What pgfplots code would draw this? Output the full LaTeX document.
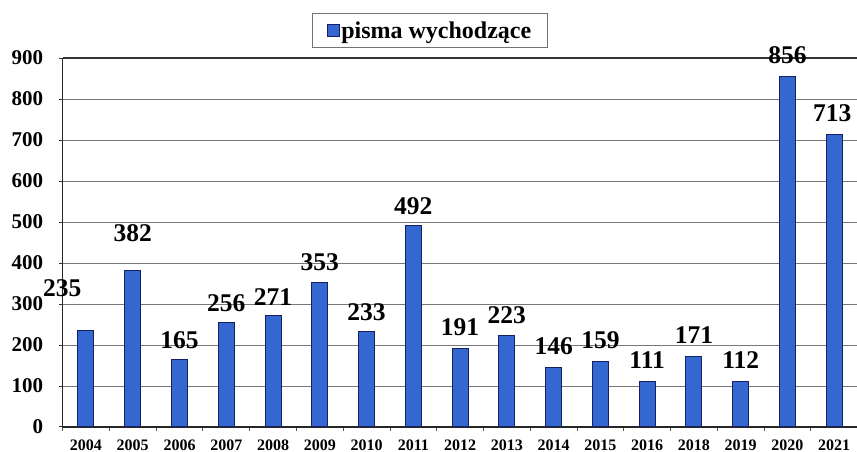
\documentclass[border=0pt]{standalone}
\usepackage{pgfplots}
\usepackage{pgfplotstable}
\pgfplotsset{compat=1.18}
\usepackage{fontspec}
\setmainfont{Liberation Serif}
\definecolor{barfill}{RGB}{52,104,208}
\definecolor{barline}{RGB}{22,32,100}
\definecolor{gridc}{RGB}{120,120,120}

\pgfplotstableread{
x y
0 235
1 382
2 165
3 256
4 271
5 353
6 233
7 492
8 191
9 223
10 146
11 159
12 111
13 171
14 112
15 856
16 713
}\bars

\pgfplotstableread{
x y label
-0.51 339 235
1 473 382
2 212 165
3 302 256
4 317 271
5 402 353
6 280 233
7 539 492
8 244 191
9 273 223
10 198 146
11 212 159
12 163 111
13 224 171
14 163 112
15 907 856
15.96 766 713
}\labels

\begin{document}
\begin{tikzpicture}[x=1pt,y=1pt]
\begin{axis}[
  scale only axis,
  width=795pt, height=369pt,
  xmin=-0.5, xmax=16.5,
  ymin=0, ymax=900,
  axis x line*=bottom,
  axis y line*=left,
  axis line style={line width=1.4pt, color=black!85},
  ytick={0,100,...,900},
  ymajorgrids,
  major grid style={line width=1pt, color=gridc},
  xtick={0,...,16},
  xticklabels={2004,2005,2006,2007,2008,2009,2010,2011,2012,2013,2014,2015,2016,2018,2019,2020,2021},
  minor xtick={-0.5,0.5,...,16.5},
  tick align=outside,
  major tick length=4pt,
  minor tick length=4pt,
  xtick style={draw=none},
  minor x tick style={draw=black!70, line width=0.8pt},
  ytick style={draw=black!80, line width=1pt},
  /pgf/number format/assume math mode=true,
  yticklabel style={font=\fontsize{21}{21}\selectfont\bfseries, xshift=-12pt},
  xticklabel style={font=\fontsize{16}{16}\selectfont\bfseries, yshift=-5pt},
  legend style={at={(0.462,1)}, anchor=south, yshift=10pt,
    draw=black!55, line width=0.8pt,
    font=\fontsize{24}{24}\selectfont\bfseries,
    inner xsep=14pt, inner ysep=6pt},
  legend image code/.code={\draw[fill=barfill, draw=barline, line width=0.8pt] (0pt,-6pt) rectangle (12pt,6pt);},
  clip=false,
]
\addplot[ybar, bar width=16pt, fill=barfill, draw=barline, line width=1pt] table[x=x,y=y]{\bars};
\addlegendentry{pisma wychodzące}
\addplot[only marks, mark=none, nodes near coords, point meta=explicit symbolic,
  nodes near coords style={anchor=center, font=\fontsize{25.5}{25.5}\selectfont\bfseries, inner sep=0pt}]
  table[x=x,y=y,meta=label]{\labels};
\draw[line width=1.6pt, color=black!80] (axis cs:-0.5,900) -- (axis cs:16.5,900);
\end{axis}
\pgfresetboundingbox
\path[use as bounding box] ([xshift=-62.6pt,yshift=-25pt]current axis.south west) rectangle ([xshift=794.4pt,yshift=427pt]current axis.south west);
\end{tikzpicture}
\end{document}
